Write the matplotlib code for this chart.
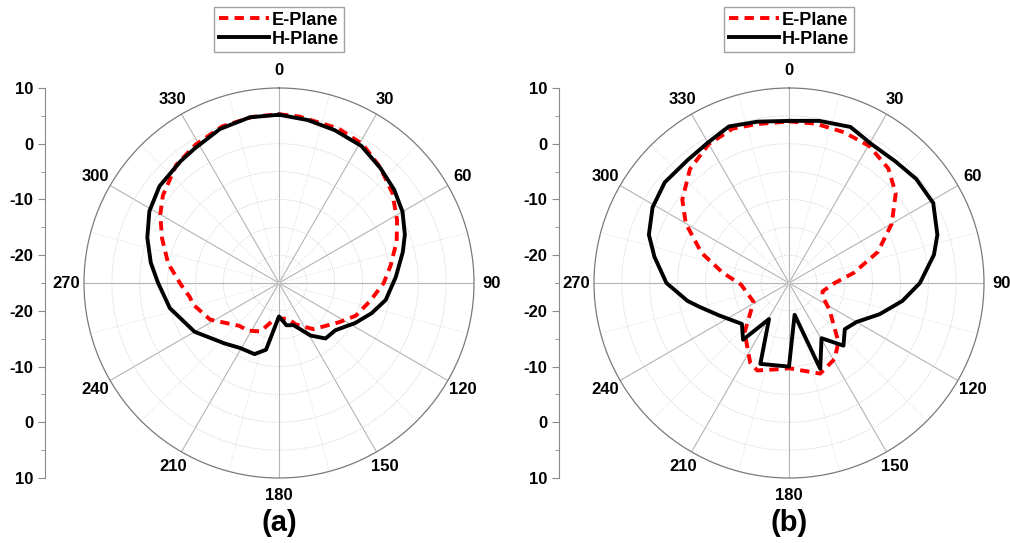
import matplotlib.pyplot as plt
import numpy as np
from matplotlib.ticker import FixedLocator, FuncFormatter

plt.rcParams["font.family"] = ["Liberation Sans", "DejaVu Sans"]
plt.rcParams["font.weight"] = "bold"

R_MIN, R_MAX = -25, 10
RING_TICKS = [-20, -15, -10, -5, 0, 5]
THETA_TICKS = list(range(0, 360, 30))
SIDE_MAJOR = [10, 0, -10, -20]
SIDE_MINOR = [5, -5, -15, -25]

# panel (a)
A_E_DEG = [0, 7, 21, 31, 41, 51.5, 62, 70.5, 81, 90, 101, 113, 123, 134, 143.5,
           158, 166, 180, 189, 201, 213, 223, 242, 256, 261, 269, 280, 291,
           300, 307, 319, 329, 340, 351, 360]
A_E_DB = [5.3, 5.1, 4.7, 4.1, 2.6, 1.0, -1.0, -2.6, -4.7, -6.2, -8.3, -10.0,
          -12.1, -13.8, -14.7, -17.0, -18.4, -18.6, -18.2, -15.7, -14.8, -14.5,
          -11.0, -9.1, -8.8, -7.4, -4.8, -2.5, -0.4, 1.1, 3.1, 4.0, 4.9, 5.2, 5.3]
A_H_DEG = [0, 10, 20, 31, 41.5, 51, 60, 69, 76, 87, 99, 108, 118, 123, 130,
           140, 149, 161, 170, 180, 191, 199, 211, 222, 240, 257, 270, 279, 289,
           299, 309, 321, 328, 339, 350, 360]
A_H_DB = [5.2, 4.7, 4.2, 3.7, 2.5, 1.6, 0.6, -0.8, -2.1, -4.0, -5.6, -7.5, -9.6,
          -10.7, -11.8, -12.0, -14.0, -17.0, -17.3, -19.0, -12.8, -11.5, -11.4,
          -10.4, -7.5, -4.9, -3.3, -1.7, 0.0, 1.6, 2.6, 3.1, 3.5, 4.6, 5.2, 5.2]

# panel (b)
B_E_DEG = [0, 9.5, 20, 30.4, 41, 50, 60, 70.7, 81, 90, 104, 112, 121, 124, 140,
           149, 161, 180, 185, 200, 206, 222, 242, 268, 279, 289, 300, 308, 319,
           330, 340, 348.5, 360]
B_E_DB = [4.0, 4.0, 3.8, 3.5, 2.2, 0.0, -3.7, -8.1, -13.2, -16.8, -18.8, -18.5,
          -16.9, -16.2, -11.2, -9.1, -7.8, -9.7, -9.5, -8.3, -9.1, -13.1, -17.8,
          -16.4, -12.9, -8.4, -3.6, -0.7, 2.1, 3.8, 4.5, 4.1, 4.0]
B_H_DEG = [0, 10.5, 21.5, 30.6, 41.3, 50.7, 61, 72, 79, 90, 99, 109, 120, 129.6,
           139, 149.5, 160, 170, 180, 199.5, 209, 219, 229, 245, 255, 260, 270,
           281, 289, 299, 309, 320.5, 330, 339, 349, 360]
B_H_DB = [4.1, 4.6, 5.1, 4.0, 4.0, 4.5, 4.6, 3.0, 1.5, -1.5, -4.4, -7.8, -11.0,
          -12.0, -10.1, -13.5, -8.6, -19.2, -10.0, -9.6, -17.6, -11.9, -13.8,
          -11.2, -8.4, -6.5, -3.0, -0.4, 1.6, 3.0, 3.7, 3.6, 4.1, 5.1, 4.5, 4.1]

W, H = 1010, 543


def draw_panel(fig, cx, axis_x, e_deg, e_db, h_deg, h_db, tag):
    radius = 195
    cy = 283
    rect = [(cx - radius) / W, (H - cy - radius) / H, 2 * radius / W, 2 * radius / H]
    ax = fig.add_axes(rect, projection="polar")
    ax.set_theta_zero_location("N")
    ax.set_theta_direction(-1)
    ax.plot(np.deg2rad(e_deg), e_db, color="red", lw=2.8, ls=(0, (2.4, 1.6)),
            label="E-Plane", zorder=3)
    ax.plot(np.deg2rad(h_deg), h_db, color="black", lw=2.8, label="H-Plane",
            zorder=4)
    ax.set_ylim(R_MIN, R_MAX)
    ax.set_yticks(RING_TICKS)
    ax.set_yticklabels([])
    ax.set_xticks(np.deg2rad(THETA_TICKS))
    ax.set_xticklabels([str(t) for t in THETA_TICKS], fontsize=12,
                       fontweight="bold")
    ax.xaxis.set_minor_locator(FixedLocator(np.deg2rad(np.arange(15, 360, 30))))
    ax.grid(True, which="major", axis="x", color="#b4b4b4", lw=0.8, ls="-")
    ax.grid(True, which="minor", axis="x", color="#d6d6d6", lw=0.6, ls=":")
    ax.grid(True, axis="y", color="#c4c4c4", lw=0.6, ls=":")
    ax.spines["polar"].set_color("#7a7a7a")
    ax.spines["polar"].set_linewidth(0.9)
    ax.tick_params(axis="x", pad=2, colors="black")
    ax.tick_params(axis="x", which="minor", color="#7a7a7a")

    ax.legend(loc="upper center", bbox_to_anchor=(cx / W, 1 - 7 / H),
              bbox_transform=fig.transFigure, fontsize=13, frameon=True,
              fancybox=False, edgecolor="#8a8a8a", borderpad=0.25,
              labelspacing=0.12, handlelength=2.8, handletextpad=0.15,
              borderaxespad=0)

    span = R_MAX - R_MIN
    side = fig.add_axes([axis_x / W, rect[1], 0.0001, rect[3]])
    side.set_ylim(-span, span)
    for name in ("top", "right", "bottom"):
        side.spines[name].set_visible(False)
    side.spines["left"].set_color("#8a8a8a")
    side.set_xticks([])
    major = [v - R_MIN for v in SIDE_MAJOR] + [R_MIN - v for v in SIDE_MAJOR]
    minor = [v - R_MIN for v in SIDE_MINOR] + [R_MIN - v for v in SIDE_MINOR]
    side.yaxis.set_major_locator(FixedLocator(major))
    side.yaxis.set_minor_locator(FixedLocator(minor))
    side.yaxis.set_major_formatter(FuncFormatter(lambda o, _: f"{R_MIN + abs(o):g}"))
    side.tick_params(axis="y", which="major", length=5, color="#8a8a8a",
                     labelsize=12, labelcolor="black")
    side.tick_params(axis="y", which="minor", length=3, color="#8a8a8a")
    side.patch.set_visible(False)

    fig.text(cx / W, 1 - 523 / H, tag, ha="center", va="center", fontsize=21,
             fontweight="bold")


fig = plt.figure(figsize=(W / 100, H / 100), dpi=100)
draw_panel(fig, 279, 45, A_E_DEG, A_E_DB, A_H_DEG, A_H_DB, "(a)")
draw_panel(fig, 789, 559, B_E_DEG, B_E_DB, B_H_DEG, B_H_DB, "(b)")
fig.savefig("out.png", dpi=100)
